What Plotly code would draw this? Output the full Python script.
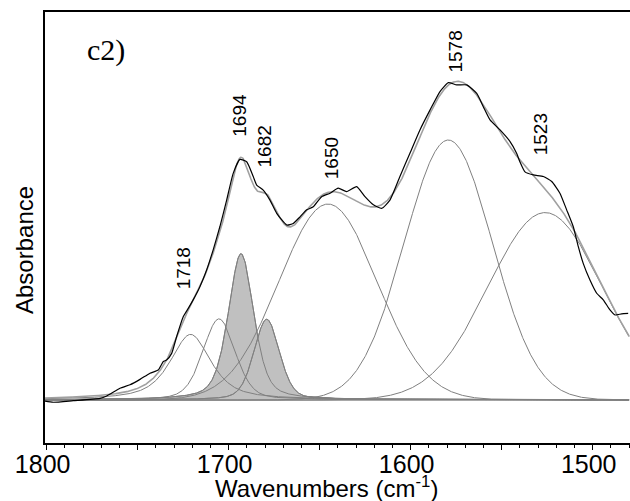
import numpy as np
import plotly.graph_objects as go

# ---------------- data ----------------
# experimental spectrum (wavenumber, absorbance, arbitrary units)
wn_exp = [1800.9, 1796.4, 1785.4, 1770.7, 1767.0, 1759.7, 1754.2, 1748.7, 1743.2, 1738.7,
          1735.9, 1734.1, 1731.3, 1728.6, 1724.9, 1722.2, 1719.5, 1715.8, 1712.1, 1708.5,
          1704.8, 1701.1, 1697.5, 1693.8, 1690.1, 1686.5, 1684.6, 1681.0, 1677.3, 1673.6,
          1668.1, 1664.5, 1660.8, 1657.1, 1653.5, 1648.9, 1644.3, 1639.8, 1635.2, 1629.7,
          1625.1, 1620.5, 1615.9, 1611.4, 1605.9, 1600.4, 1594.9, 1589.4, 1583.9, 1579.3,
          1574.7, 1569.2, 1563.7, 1560.1, 1556.4, 1550.9, 1545.4, 1541.8, 1540.0, 1537.2,
          1532.6, 1527.1, 1522.5, 1518.0, 1514.3, 1510.7, 1507.9, 1505.2, 1501.5, 1497.8,
          1494.2, 1490.5, 1487.7, 1484.1, 1480.5]
abs_exp = [-0.003, -0.006, -0.002, 0.004, 0.010, 0.030, 0.039, 0.053, 0.069, 0.077,
           0.099, 0.103, 0.120, 0.163, 0.215, 0.236, 0.258, 0.292, 0.335, 0.387,
           0.447, 0.515, 0.584, 0.620, 0.614, 0.576, 0.554, 0.541, 0.515, 0.481,
           0.451, 0.455, 0.472, 0.490, 0.498, 0.524, 0.533, 0.546, 0.537, 0.550,
           0.524, 0.503, 0.494, 0.515, 0.576, 0.636, 0.696, 0.747, 0.795, 0.818,
           0.812, 0.812, 0.790, 0.756, 0.722, 0.696, 0.666, 0.636, 0.614, 0.588,
           0.580, 0.576, 0.563, 0.533, 0.490, 0.447, 0.395, 0.352, 0.309, 0.275,
           0.258, 0.232, 0.219, 0.222, 0.223]

# fitted band components (pseudo-Voigt: centre, height, FWHM, Lorentzian fraction)
peak_center = [1720.9, 1705.3, 1693.2, 1679.1, 1645.4, 1579.3, 1526.1]
peak_height = [0.169, 0.209, 0.377, 0.208, 0.505, 0.670, 0.483]
peak_fwhm = [26.4, 20.9, 16.5, 16.5, 63.4, 56.9, 73.7]
peak_eta = [0.70, 0.30, 0.45, 0.30, 0.0, 0.0, 0.0]
peak_shaded = [False, False, True, True, False, False, False]

# peak labels
label_text = ["1718", "1694", "1682", "1650", "1578", "1523"]
label_wn = [1724.8, 1693.8, 1680.1, 1643.8, 1575.1, 1528.7]
label_abs = [0.338, 0.735, 0.653, 0.623, 0.898, 0.686]

x_ticks = [1800, 1750, 1700, 1650, 1600, 1550, 1500]
x_ticktext = ["1800", "", "1700", "", "1600", "", "1500"]

# ---------------- build ----------------
wn = np.linspace(1480.0, 1801.0, 1285)


def pvoigt(x, c, h, f, eta):
    hw = f / 2.0
    r2 = ((x - c) / hw) ** 2
    lor = 1.0 / (1.0 + r2)
    gau = np.exp(-np.log(2.0) * r2)
    return h * (eta * lor + (1.0 - eta) * gau)


comps = [pvoigt(wn, c, h, f, e) for c, h, f, e in zip(peak_center, peak_height, peak_fwhm, peak_eta)]
fit = np.sum(comps, axis=0)

fig = go.Figure()

# baseline
fig.add_trace(go.Scatter(x=[wn[0], wn[-1]], y=[0, 0], mode="lines",
                         line=dict(color="#a8a8a8", width=2), hoverinfo="skip"))

# shaded components
for comp, sh in zip(comps, peak_shaded):
    if sh:
        fig.add_trace(go.Scatter(x=wn, y=comp, mode="lines", fill="tozeroy",
                                 fillcolor="#c0c0c0",
                                 line=dict(color="#808080", width=1), hoverinfo="skip"))

# component outlines
for comp, sh in zip(comps, peak_shaded):
    fig.add_trace(go.Scatter(x=wn, y=comp, mode="lines",
                             line=dict(color="#808080", width=1), hoverinfo="skip"))

# fit envelope
fig.add_trace(go.Scatter(x=wn, y=fit, mode="lines",
                         line=dict(color="#a0a0a0", width=1.6), hoverinfo="skip"))

# experimental
fig.add_trace(go.Scatter(x=wn_exp, y=abs_exp, mode="lines",
                         line=dict(color="black", width=1.2, shape="spline", smoothing=0.5),
                         hoverinfo="skip"))

annotations = []
for t, x, y in zip(label_text, label_wn, label_abs):
    annotations.append(dict(x=x, y=y, xref="x", yref="y", text=t, showarrow=False,
                            textangle=-90, xanchor="center", yanchor="middle",
                            font=dict(family="Liberation Sans, Arial", size=19, color="black")))

annotations.append(dict(x=(106 - 45) / 585, y=(443 - 50) / 431, xref="paper", yref="paper", text="c2)",
                        showarrow=False, xanchor="center", yanchor="middle",
                        font=dict(family="Liberation Serif, Times New Roman", size=30, color="black")))
annotations.append(dict(x=(326 - 45) / 585, y=(443 - 486.5) / 431, xref="paper", yref="paper",
                        text="Wavenumbers (cm<sup>-1</sup>)", showarrow=False,
                        xanchor="center", yanchor="middle",
                        font=dict(family="Liberation Sans, Arial", size=24, color="black")))
annotations.append(dict(x=(24 - 45) / 585, y=(443 - 250) / 431, xref="paper", yref="paper",
                        text="Absorbance", showarrow=False, textangle=-90,
                        xanchor="center", yanchor="middle",
                        font=dict(family="Liberation Sans, Arial", size=24, color="black")))

fig.update_layout(
    width=630, height=501,
    margin=dict(l=45, r=0, t=12, b=58),
    paper_bgcolor="white", plot_bgcolor="white",
    showlegend=False,
    annotations=annotations,
    xaxis=dict(range=[1800.9, 1479.5], tickvals=x_ticks, ticktext=x_ticktext,
               ticks="outside", ticklen=5, tickwidth=1, tickcolor="black",
               minor=dict(dtick=10, ticks="outside", ticklen=3, tickcolor="black", tickwidth=1),
               showline=True, linecolor="black", linewidth=2, mirror=True,
               showgrid=False, zeroline=False,
               tickfont=dict(family="Liberation Sans, Arial", size=25, color="black"),
               ticklabelshift=4, ticklabelstandoff=-7),
    yaxis=dict(range=[-0.111, 1.0], showticklabels=False, ticks="",
               showline=True, linecolor="black", linewidth=2, mirror=False,
               showgrid=False, zeroline=False),
)

fig.write_html("out.html")
